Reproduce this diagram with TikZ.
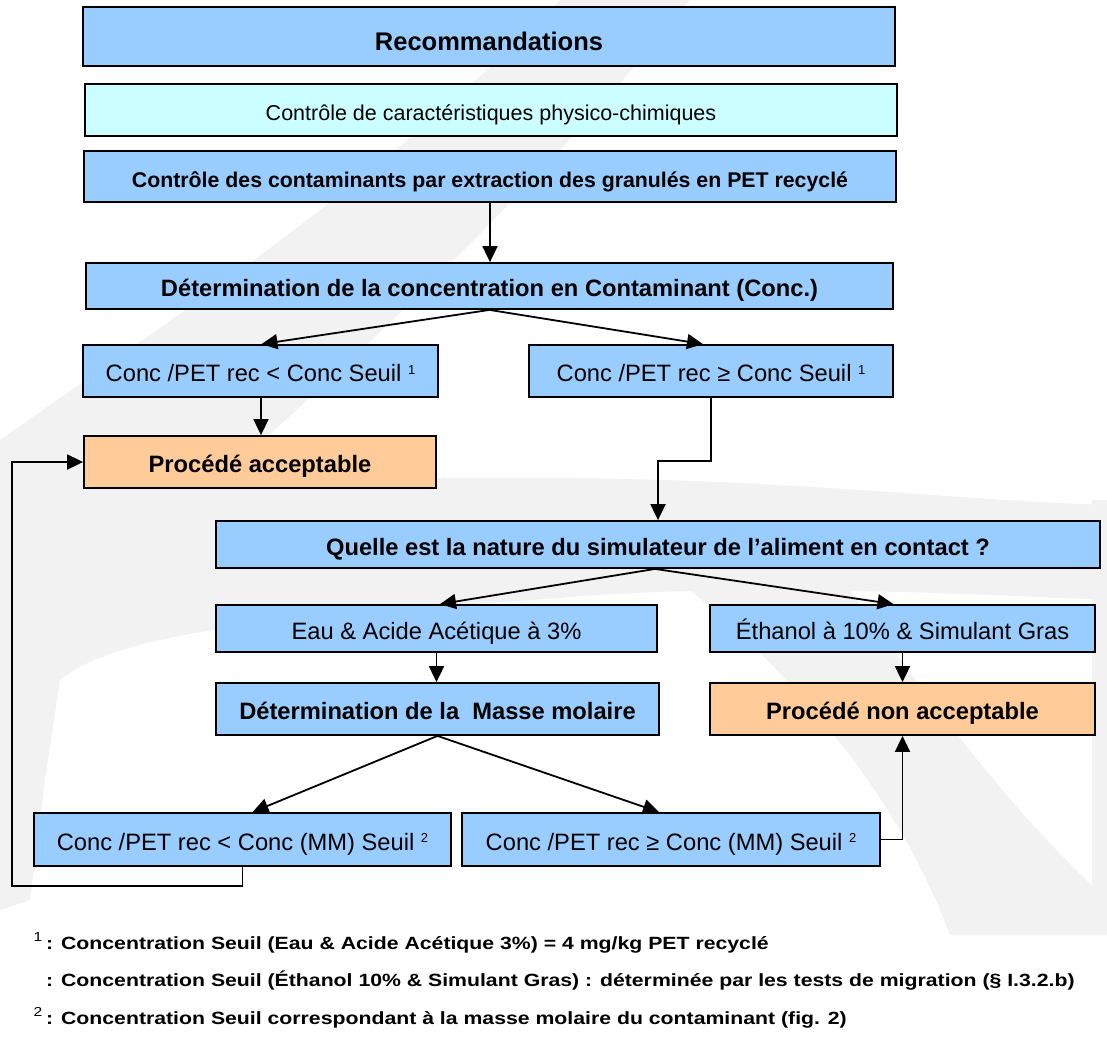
\documentclass[tikz,border=0pt]{standalone}
\usepackage{fontspec}
\setmainfont{Liberation Sans}
\newfontfamily\fnfont[FakeStretch=1.2]{Liberation Sans}
\usetikzlibrary{arrows.meta}
\definecolor{boxblue}{HTML}{99CCFF}
\definecolor{boxcyan}{HTML}{CCFFFF}
\definecolor{boxpeach}{HTML}{FFCC99}
\definecolor{wm}{HTML}{F2F2F2}
\newcommand{\mysup}[1]{\raisebox{7.5pt}{\fontsize{13}{13}\selectfont\mdseries #1}}
\newcommand{\fnsup}[1]{\raisebox{8pt}{\fontsize{13}{13}\selectfont\mdseries #1}}
\tikzset{
  box/.style={draw=black, line width=1.8pt, inner sep=0pt, text height=21pt, text depth=0pt,
    font=\fontsize{23.7}{28}\selectfont},
  bluebox/.style={box, fill=boxblue},
  cyanbox/.style={box, fill=boxcyan},
  peachbox/.style={box, fill=boxpeach},
  boldtxt/.style={font=\fontsize{23.7}{28}\selectfont\bfseries},
  arr/.style={line width=1.8pt, -{Triangle[length=16pt,width=15pt]}},
  fn/.style={anchor=base west, inner sep=0pt, font=\fnfont\fontsize{17.7}{20}\selectfont\bfseries}
}
\begin{document}
\begin{tikzpicture}[x=1pt,y=-1pt]
\useasboundingbox (0,0) rectangle (1107,1037);
\fill[white] (0,0) rectangle (1107,1037);
% watermark
\fill[wm] (560,0) -- (690,0) .. controls (560,160) and (420,300) .. (230,470) -- (0,560) -- (0,440) .. controls (200,300) and (380,180) .. (560,0) -- cycle;
\fill[wm] (0,470) .. controls (150,480) and (300,478) .. (560,478) .. controls (800,480) and (950,500) .. (1107,505) -- (1107,600) .. controls (900,590) and (700,585) .. (560,598) .. controls (300,615) and (120,630) .. (60,680) -- (45,780) -- (30,900) -- (0,910) -- cycle;
\fill[wm] (690,590) -- (850,590) .. controls (930,700) and (1000,800) .. (1107,900) -- (1107,935) -- (950,935) .. controls (900,800) and (800,680) .. (690,590) -- cycle;
\fill[wm] (1092,500) rectangle (1107,935);

% boxes
\node[bluebox, minimum width=812pt, minimum height=59pt, text height=27pt, font=\fontsize{25.5}{30}\selectfont\bfseries] (rec) at (489,36.5) {Recommandations};
\node[cyanbox, minimum width=812pt, minimum height=52pt, font=\fontsize{21.5}{26}\selectfont] (phys) at (491,110) {Contrôle de caractéristiques physico-chimiques};
\node[bluebox, minimum width=812pt, minimum height=51pt, font=\fontsize{21.3}{26}\selectfont\bfseries] (cont) at (490,176.5) {Contrôle des contaminants par extraction des granulés en PET recyclé};
\node[bluebox, boldtxt, minimum width=807pt, minimum height=46pt] (det) at (489.5,286) {Détermination de la concentration en Contaminant (Conc.)};
\node[bluebox, minimum width=355pt, minimum height=52pt] (lt1) at (260.5,371) {Conc /PET rec < Conc Seuil \mysup{1}};
\node[bluebox, minimum width=364pt, minimum height=52pt] (ge1) at (711,371) {Conc /PET rec ≥ Conc Seuil \mysup{1}};
\node[peachbox, boldtxt, minimum width=352pt, minimum height=52pt] (acc) at (260,462) {Procédé acceptable};
\node[bluebox, boldtxt, minimum width=884pt, minimum height=47pt] (quelle) at (658,544.5) {Quelle est la nature du simulateur de l’aliment en contact ?};
\node[bluebox, minimum width=441pt, minimum height=47pt] (eau) at (436.5,628.5) {Eau \& Acide Acétique à 3\%};
\node[bluebox, minimum width=385pt, minimum height=47pt] (eth) at (902.5,628.5) {Éthanol à 10\% \& Simulant Gras};
\node[bluebox, boldtxt, minimum width=443pt, minimum height=52pt] (masse) at (437.5,709) {Détermination de la\ \ Masse molaire};
\node[peachbox, boldtxt, minimum width=385pt, minimum height=52pt] (nonacc) at (902.5,709) {Procédé non acceptable};
\node[bluebox, minimum width=417pt, minimum height=53pt] (lt2) at (242.5,839.5) {Conc /PET rec < Conc (MM) Seuil \mysup{2}};
\node[bluebox, minimum width=418pt, minimum height=53pt] (ge2) at (671,839.5) {Conc /PET rec ≥ Conc (MM) Seuil \mysup{2}};

% connectors
\draw[arr] (cont.south) -- (cont.south |- det.north);
\draw[arr] (det.south) -- ([xshift=1pt]lt1.north);
\draw[arr] (det.south) -- ([xshift=-8pt]ge1.north);
\draw[arr] ([xshift=0.5pt]lt1.south) -- ([xshift=0.5pt]lt1.south |- acc.north);
\draw[arr] (ge1.south) -- ++(0,63) -| (quelle.north);
\draw[arr] ([xshift=-3pt]quelle.south) -- ([xshift=3.5pt]eau.north);
\draw[arr] ([xshift=-3pt]quelle.south) -- ([xshift=-9pt]eth.north);
\draw[arr] (eau.south) -- (eau.south |- masse.north);
\draw[arr] (eth.south) -- (eth.south |- nonacc.north);
\draw[arr] (masse.south) -- ([xshift=10pt]lt2.north);
\draw[arr] (masse.south) -- ([xshift=-12pt]ge2.north);
\draw[arr] (ge2.east) -| (nonacc.south);
\coordinate (lp) at (12,886);
\draw[arr] (lt2.south) |- (lp) |- (acc.west);

% footnotes
\node[fn] (f1) at (46,949) {\llap{\fnsup{1}\hspace{4pt}}: Concentration Seuil (Eau \& Acide Acétique 3\%) = 4 mg/kg PET recyclé};
\node[fn] (f2) at (46,986.5) {: Concentration Seuil (Éthanol 10\% \& Simulant Gras) : déterminée par les tests de migration (§ I.3.2.b)};
\node[fn] (f3) at (46,1024) {\llap{\fnsup{2}\hspace{4pt}}: Concentration Seuil correspondant à la masse molaire du contaminant (fig. 2)};
\end{tikzpicture}
\end{document}
